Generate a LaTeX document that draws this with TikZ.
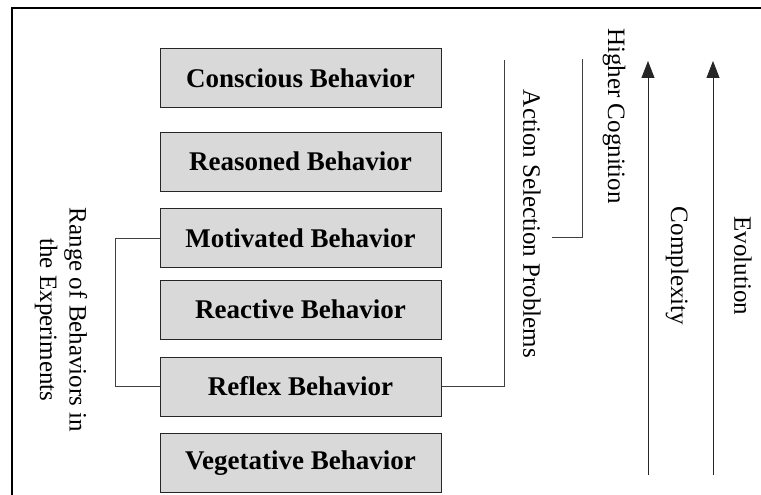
\documentclass[tikz,border=0pt]{standalone}
\usepackage{fontspec}
\setmainfont{Liberation Serif}
\usetikzlibrary{arrows.meta}
\begin{document}
\begin{tikzpicture}[x=1pt,y=-1pt,
  behavior/.style={draw=black!85,line width=1pt,fill=black!15,minimum width=281pt,minimum height=59pt,
    inner sep=0pt,font=\fontsize{27}{31}\selectfont\bfseries},
  label/.style={rotate=-90,inner sep=0pt,font=\fontsize{25}{29.5}\selectfont,align=center},
  link/.style={draw=black!75,line width=0.7pt},
  scale arrow/.style={draw=black!85,line width=0.8pt,-{Triangle[width=13pt,length=17pt]}}]
\useasboundingbox (0,0) rectangle (761,495);
% open frame: left and top edges only
\draw[line width=1.2pt] (12,495) -- (12,8) -- (761,8);

% stack of behaviour levels
\node[behavior] (conscious) at (300.5,78.5) {Conscious Behavior};
\node[behavior] (reasoned) at (300.5,161.5) {Reasoned Behavior};
\node[behavior] (motivated) at (300.5,238) {Motivated Behavior};
\node[behavior] (reactive) at (300.5,309.5) {Reactive Behavior};
\node[behavior] (reflex) at (300.5,386.5) {Reflex Behavior};
\node[behavior] (vegetative) at (300.5,463) {Vegetative Behavior};

% range bracket on the left
\coordinate (rangeTop) at (115,238);
\coordinate (rangeBot) at (115,386.5);
\draw[link] (motivated.west) -- (rangeTop) -- (rangeBot) -- (reflex.west);
\node[label] (range) at (61,320) {Range of Behaviors in\\the Experiments};

% action selection bracket
\coordinate (asTop) at (504,60);
\coordinate (asCorner) at (504,386.5);
\draw[link] (asTop) -- (asCorner) -- (reflex.east);
\node[label] (action) at (532,224) {Action Selection Problems};

% higher cognition bracket
\coordinate (hcTop) at (582,59);
\coordinate (hcCorner) at (582,237);
\coordinate (hcEnd) at (552,237);
\draw[link] (hcTop) -- (hcCorner) -- (hcEnd);
\node[label] (higher) at (614,116) {Higher Cognition};

% complexity and evolution arrows
\coordinate (cxBot) at (648,475);
\coordinate (cxTop) at (648,61);
\draw[scale arrow] (cxBot) -- (cxTop);
\node[label] (complexity) at (677,266) {Complexity};
\coordinate (evBot) at (713,475);
\coordinate (evTop) at (713,61);
\draw[scale arrow] (evBot) -- (evTop);
\node[label] (evolution) at (743,266) {Evolution};
\end{tikzpicture}
\end{document}
